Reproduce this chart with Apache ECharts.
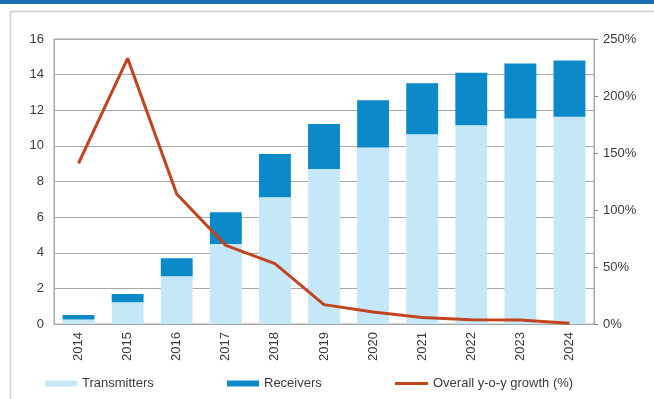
<!DOCTYPE html>
<html>
<head>
<meta charset="UTF-8">
<title>Transmitters / Receivers</title>
<style>
    html, body { margin: 0; padding: 0; background: #fff; }
    #chartArea { width: 654px; height: 399px; }
</style>
</head>
<body>
<div id="chartArea"></div>
<script src="https://cdn.jsdelivr.net/npm/echarts@6/dist/echarts.min.js"></script>
<script>
var years = ['2014', '2015', '2016', '2017', '2018', '2019', '2020', '2021', '2022', '2023', '2024'];
var transmitters = [0.25, 1.22, 2.68, 4.49, 7.12, 8.70, 9.91, 10.65, 11.16, 11.53, 11.64];
var receivers = [0.25, 0.47, 1.01, 1.78, 2.43, 2.53, 2.65, 2.86, 2.95, 3.09, 3.16];
var growth = [141, 233, 114, 69, 53, 17, 10.5, 5.8, 3.8, 3.5, 0.6];

var leftTicks = { min: 0, max: 16, interval: 2 };
var rightTicks = { min: 0, max: 250, interval: 50 };

var txt = { color: '#3a3a3a', fontSize: 13, fontFamily: 'Liberation Sans' };

var myChart = echarts.init(document.getElementById('chartArea'));
myChart.setOption({
    animation: false,
    graphic: [
        { type: 'rect', shape: { x: 0, y: 0, width: 654, height: 4 }, style: { fill: '#1b6fb5' } },
        { type: 'line', shape: { x1: 10, y1: 11.5, x2: 654, y2: 11.5 }, style: { stroke: '#cfcfcf', lineWidth: 1.5 } },
        { type: 'line', shape: { x1: 10.5, y1: 11, x2: 10.5, y2: 399 }, style: { stroke: '#cfcfcf', lineWidth: 1.5 } }
    ],
    grid: {
        left: 54, right: 60, top: 39, bottom: 75,
        show: true, borderColor: '#a8a8a8', borderWidth: 1
    },
    legend: [
        { left: 45, top: 377, padding: 0, itemWidth: 32, itemHeight: 6, icon: 'rect', textStyle: txt, data: ['Transmitters'] },
        { left: 227, top: 377, padding: 0, itemWidth: 32, itemHeight: 6, icon: 'rect', textStyle: txt, data: ['Receivers'] },
        { left: 395, top: 377, padding: 0, itemWidth: 33, itemHeight: 3, icon: 'rect', textStyle: txt, data: ['Overall y-o-y growth (%)'] }
    ],
    xAxis: {
        type: 'category',
        data: years,
        axisLine: { lineStyle: { color: '#a8a8a8' } },
        axisTick: { inside: true, length: 3, lineStyle: { color: '#888' } },
        axisLabel: Object.assign({ rotate: 90, margin: 8 }, txt)
    },
    yAxis: [{
        type: 'value',
        min: leftTicks.min, max: leftTicks.max, interval: leftTicks.interval,
        axisLine: { show: true, lineStyle: { color: '#a8a8a8' } },
        axisTick: { show: false },
        splitLine: { lineStyle: { color: '#a8a8a8' } },
        axisLabel: Object.assign({ margin: 10 }, txt)
    }, {
        type: 'value',
        min: rightTicks.min, max: rightTicks.max, interval: rightTicks.interval,
        axisLine: { show: true, lineStyle: { color: '#a8a8a8' } },
        axisTick: { show: true, length: 4, lineStyle: { color: '#888' } },
        splitLine: { show: false },
        axisLabel: Object.assign({ margin: 9, formatter: '{value}%' }, txt)
    }],
    series: [{
        name: 'Transmitters',
        type: 'bar',
        stack: 'units',
        barWidth: '65%',
        itemStyle: { color: '#c4e8f8' },
        data: transmitters
    }, {
        name: 'Receivers',
        type: 'bar',
        stack: 'units',
        itemStyle: { color: '#0b89c9' },
        data: receivers
    }, {
        name: 'Overall y-o-y growth (%)',
        type: 'line',
        yAxisIndex: 1,
        symbol: 'none',
        itemStyle: { color: '#c2441f' },
        lineStyle: { color: '#c2441f', width: 3 },
        data: growth
    }]
});
</script>
</body>
</html>
